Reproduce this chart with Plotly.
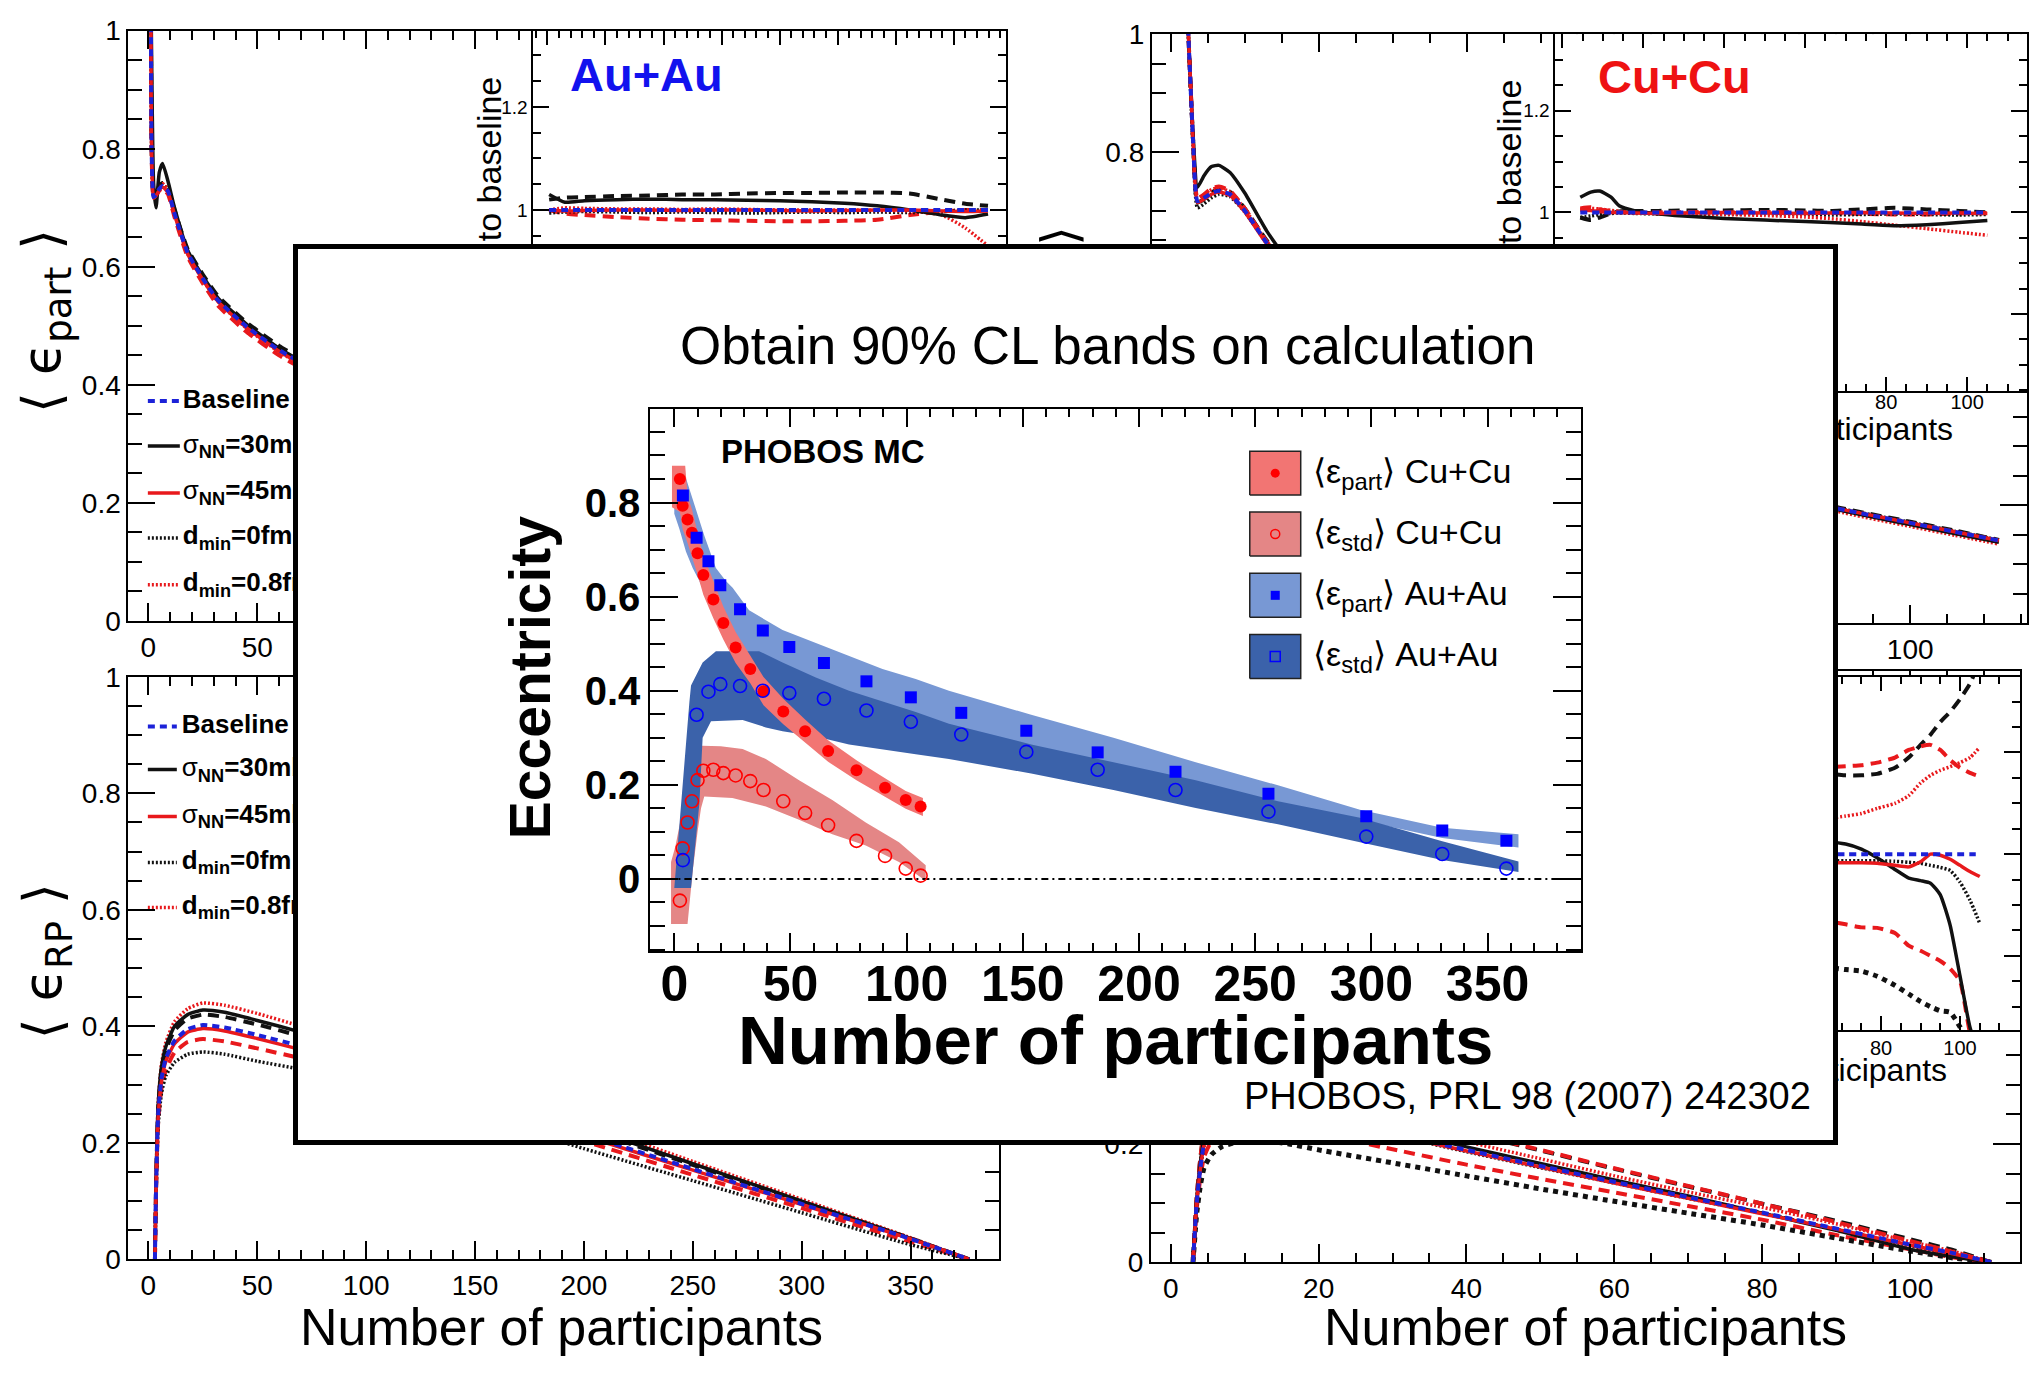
import plotly.graph_objects as go

W, H = 2029, 1375
SANS = "Liberation Sans, Arial, Helvetica, sans-serif"
MATH = "DejaVu Sans, Liberation Sans, sans-serif"

# ------------------------------------------------------------------
# PHOBOS MC eccentricity vs number of participants (central figure)
# ------------------------------------------------------------------
NPART_CU = [2.4, 3.6, 5.7, 7.6, 10.0, 12.5, 16.8, 21.1, 26.4, 32.7, 38.4, 46.9, 56.3, 66.2, 78.4, 90.7, 99.6, 106.0]
ECC_PART_CU = [0.850, 0.793, 0.764, 0.736, 0.692, 0.646, 0.594, 0.544, 0.492, 0.446, 0.399, 0.356, 0.314, 0.272, 0.231, 0.194, 0.168, 0.154]
ECC_STD_CU = [-0.046, 0.065, 0.120, 0.165, 0.210, 0.230, 0.232, 0.225, 0.220, 0.208, 0.189, 0.165, 0.140, 0.114, 0.081, 0.049, 0.022, 0.007]
NPART_AU = [3.7, 9.6, 14.7, 19.8, 28.3, 38.1, 49.5, 64.4, 82.7, 101.8, 123.5, 151.5, 182.2, 215.7, 255.7, 297.8, 330.5, 358.1]
ECC_PART_AU = [0.815, 0.725, 0.675, 0.624, 0.573, 0.528, 0.493, 0.459, 0.420, 0.386, 0.353, 0.315, 0.269, 0.228, 0.181, 0.133, 0.103, 0.081]
ECC_STD_AU = [0.040, 0.349, 0.398, 0.414, 0.410, 0.400, 0.395, 0.383, 0.358, 0.334, 0.307, 0.270, 0.232, 0.189, 0.143, 0.090, 0.053, 0.022]

# 90% CL bands (upper / lower edges)
BAND_PART_CU_HI_X = [-1.0, 4.7, 5.7, 7.6, 10.0, 12.5, 16.8, 21.1, 26.4, 32.7, 38.4, 46.9, 56.3, 66.2, 78.4, 90.7, 99.6, 107.0]
BAND_PART_CU_HI_Y = [0.878, 0.878, 0.814, 0.786, 0.737, 0.688, 0.634, 0.579, 0.525, 0.476, 0.429, 0.383, 0.339, 0.295, 0.252, 0.214, 0.187, 0.172]
BAND_PART_CU_LO_X = [-1.0, 2.4, 3.6, 5.7, 7.6, 10.0, 12.5, 16.8, 21.1, 26.4, 32.7, 38.4, 46.9, 56.3, 66.2, 78.4, 90.7, 99.6, 107.0]
BAND_PART_CU_LO_Y = [0.790, 0.780, 0.743, 0.714, 0.686, 0.647, 0.604, 0.554, 0.509, 0.459, 0.416, 0.369, 0.329, 0.289, 0.249, 0.210, 0.174, 0.149, 0.134]

BAND_STD_CU_HI_X = [-1.4, 0.5, 2.5, 4.5, 6.5, 8.5, 10.5, 12.0, 20.0, 29.4, 39.4, 53.7, 68.0, 82.4, 96.7, 108.2]
BAND_STD_CU_HI_Y = [0.036, 0.070, 0.120, 0.170, 0.220, 0.255, 0.278, 0.283, 0.282, 0.276, 0.255, 0.210, 0.168, 0.120, 0.078, 0.029]
BAND_STD_CU_LO_X = [-1.4, 5.7, 8.0, 10.0, 11.5, 12.9, 25.0, 39.4, 53.7, 68.0, 82.4, 96.7, 106.8, 108.2]
BAND_STD_CU_LO_Y = [-0.096, -0.096, 0.020, 0.100, 0.150, 0.175, 0.172, 0.154, 0.126, 0.095, 0.071, 0.036, 0.001, 0.0]

BAND_PART_AU_HI_X = [0.0, 5.0, 9.3, 12.9, 17.9, 22.2, 25.1, 32.2, 46.6, 60.9, 75.2, 89.6, 103.9, 118.2, 153.6, 189.0, 224.4, 259.8, 295.1, 330.5, 363.3]
BAND_PART_AU_HI_Y = [0.852, 0.852, 0.786, 0.730, 0.661, 0.633, 0.619, 0.571, 0.529, 0.501, 0.474, 0.446, 0.425, 0.400, 0.349, 0.300, 0.248, 0.199, 0.147, 0.109, 0.095]
BAND_PART_AU_LO_X = [0.0, 2.2, 5.0, 7.9, 10.8, 14.3, 17.9, 22.2, 25.1, 36.5, 46.6, 60.9, 75.2, 89.6, 103.9, 118.2, 153.6, 189.0, 224.4, 259.8, 295.1, 330.5, 363.3]
BAND_PART_AU_LO_Y = [0.776, 0.744, 0.696, 0.661, 0.633, 0.592, 0.550, 0.515, 0.484, 0.478, 0.455, 0.423, 0.395, 0.372, 0.350, 0.325, 0.282, 0.243, 0.205, 0.160, 0.125, 0.087, 0.067]

BAND_STD_AU_HI_X = [0.0, 2.9, 5.0, 6.5, 7.2, 12.2, 17.9, 36.5, 46.6, 60.9, 75.2, 89.6, 103.9, 118.2, 153.6, 189.0, 224.4, 259.8, 295.1, 330.5, 363.3]
BAND_STD_AU_HI_Y = [-0.019, 0.161, 0.300, 0.376, 0.411, 0.460, 0.484, 0.484, 0.460, 0.428, 0.400, 0.377, 0.355, 0.330, 0.286, 0.248, 0.210, 0.165, 0.130, 0.080, 0.037]
BAND_STD_AU_LO_X = [0.0, 7.2, 10.8, 12.2, 15.8, 29.4, 39.4, 46.6, 60.9, 75.2, 89.6, 103.9, 118.2, 153.6, 189.0, 224.4, 259.8, 295.1, 330.5, 363.3]
BAND_STD_AU_LO_Y = [-0.019, -0.019, 0.161, 0.300, 0.335, 0.338, 0.322, 0.314, 0.303, 0.286, 0.276, 0.265, 0.255, 0.224, 0.189, 0.151, 0.116, 0.078, 0.040, 0.015]

LEGEND_CENTRAL = ["⟨ε<sub>part</sub>⟩ Cu+Cu", "⟨ε<sub>std</sub>⟩ Cu+Cu",
                  "⟨ε<sub>part</sub>⟩ Au+Au", "⟨ε<sub>std</sub>⟩ Au+Au"]

# ------------------------------------------------------------------
# Glauber variations: Au+Au <eps_part> (top left) and ratio to baseline
# ------------------------------------------------------------------
AU_PART_NPART = [1.2, 2.4, 3.5, 5.0, 6.5, 9.0, 12.0, 18.0, 25.0, 32.0, 45.0, 60.0, 75.0, 100.0, 150.0, 200.0, 250.0, 300.0, 350.0, 380.0]
AU_PART_BASE = [1.05, 0.718, 0.722, 0.732, 0.737, 0.728, 0.690, 0.624, 0.580, 0.543, 0.499, 0.459, 0.428, 0.385, 0.318, 0.255, 0.190, 0.135, 0.090, 0.070]
AU_PART_S30 = [1.05, 0.740, 0.700, 0.760, 0.775, 0.745, 0.700, 0.628, 0.584, 0.547, 0.503, 0.462, 0.431, 0.388, 0.320, 0.256, 0.190, 0.134, 0.088, 0.069]
AU_PART_S45 = [1.05, 0.716, 0.720, 0.730, 0.735, 0.726, 0.688, 0.622, 0.578, 0.541, 0.497, 0.457, 0.426, 0.383, 0.316, 0.253, 0.188, 0.133, 0.089, 0.069]
AU_PART_D0 = [1.05, 0.720, 0.724, 0.734, 0.739, 0.730, 0.692, 0.626, 0.582, 0.545, 0.501, 0.461, 0.430, 0.386, 0.319, 0.256, 0.191, 0.136, 0.091, 0.071]
AU_PART_D08 = [1.05, 0.722, 0.726, 0.736, 0.741, 0.731, 0.690, 0.622, 0.578, 0.541, 0.496, 0.456, 0.425, 0.382, 0.315, 0.252, 0.187, 0.133, 0.088, 0.067]
AU_PART_DASH_K = [1.05, 0.722, 0.726, 0.737, 0.742, 0.733, 0.696, 0.630, 0.587, 0.550, 0.506, 0.466, 0.435, 0.391, 0.323, 0.259, 0.194, 0.138, 0.092, 0.071]
AU_PART_DASH_R = [1.05, 0.716, 0.720, 0.729, 0.733, 0.723, 0.684, 0.617, 0.572, 0.534, 0.490, 0.450, 0.419, 0.377, 0.311, 0.249, 0.185, 0.132, 0.088, 0.069]

AU_RATIO_NPART = [1.5, 15, 32, 60, 88, 116, 144, 172, 200, 228, 256, 284, 312, 340, 360, 379.5]
AU_RATIO_BASE = [1.0, 1.0, 1.0, 1.0, 1.0, 1.0, 1.0, 1.0, 1.0, 1.0, 1.0, 1.0, 1.0, 1.0, 1.0, 1.0]
AU_RATIO_S30 = [1.030, 1.015, 1.018, 1.020, 1.021, 1.020, 1.020, 1.019, 1.018, 1.016, 1.013, 1.008, 1.000, 0.990, 0.985, 0.992]
AU_RATIO_S45 = [1.000, 0.998, 0.999, 1.000, 1.000, 0.999, 1.000, 1.000, 0.999, 0.998, 0.999, 1.000, 1.000, 0.998, 0.997, 0.998]
AU_RATIO_D0 = [0.994, 0.996, 0.997, 0.996, 0.995, 0.996, 0.995, 0.994, 0.995, 0.996, 0.995, 0.996, 0.995, 0.997, 1.000, 1.000]
AU_RATIO_D08 = [1.000, 1.004, 1.003, 1.002, 1.002, 1.001, 1.002, 1.001, 1.000, 1.000, 1.000, 0.999, 0.998, 0.990, 0.965, 0.930]
AU_RATIO_DASH_K = [1.020, 1.024, 1.025, 1.027, 1.028, 1.030, 1.030, 1.032, 1.033, 1.033, 1.034, 1.034, 1.032, 1.020, 1.012, 1.008]
AU_RATIO_DASH_R = [1.000, 0.993, 0.990, 0.986, 0.983, 0.981, 0.980, 0.979, 0.978, 0.978, 0.979, 0.981, 0.990, 0.997, 1.000, 1.000]

# Au+Au <eps_RP> (bottom left)
RP_AU_NPART = [3.0, 3.5, 4.5, 6.0, 8.0, 12.0, 18.0, 25.0, 35.0, 50.0, 70.0, 100.0, 150.0, 200.0, 250.0, 300.0, 350.0, 377.0]
RP_AU_BASE = [0.0, 0.120, 0.250, 0.310, 0.345, 0.375, 0.395, 0.402, 0.398, 0.385, 0.366, 0.335, 0.278, 0.215, 0.155, 0.095, 0.035, 0.0]
RP_AU_S30 = [0.0, 0.130, 0.265, 0.330, 0.365, 0.400, 0.420, 0.428, 0.424, 0.410, 0.390, 0.356, 0.294, 0.228, 0.164, 0.100, 0.036, 0.0]
RP_AU_S45 = [0.0, 0.118, 0.245, 0.305, 0.340, 0.370, 0.390, 0.396, 0.392, 0.379, 0.360, 0.330, 0.274, 0.212, 0.153, 0.094, 0.035, 0.0]
RP_AU_D0 = [0.0, 0.110, 0.230, 0.285, 0.315, 0.338, 0.352, 0.356, 0.352, 0.340, 0.326, 0.298, 0.247, 0.190, 0.135, 0.080, 0.025, 0.0]
RP_AU_D08 = [0.0, 0.130, 0.270, 0.335, 0.372, 0.408, 0.430, 0.440, 0.436, 0.422, 0.400, 0.366, 0.302, 0.234, 0.168, 0.103, 0.037, 0.0]
RP_AU_DASH_K = [0.0, 0.125, 0.260, 0.325, 0.360, 0.393, 0.413, 0.420, 0.416, 0.403, 0.383, 0.350, 0.290, 0.225, 0.162, 0.099, 0.036, 0.0]
RP_AU_DASH_R = [0.0, 0.112, 0.237, 0.293, 0.325, 0.355, 0.373, 0.378, 0.374, 0.362, 0.345, 0.316, 0.262, 0.203, 0.145, 0.088, 0.030, 0.0]

# Cu+Cu <eps_part> (top right) and ratio to baseline
CU_PART_NPART = [2.2, 3.0, 3.6, 4.5, 5.5, 6.5, 8.0, 10.0, 13.0, 17.0, 22.0, 30.0, 40.0, 50.0, 60.0, 70.0, 80.0, 90.0, 100.0, 106.0, 112.0]
CU_PART_BASE = [1.05, 0.820, 0.716, 0.722, 0.730, 0.734, 0.728, 0.700, 0.645, 0.585, 0.525, 0.455, 0.390, 0.345, 0.305, 0.270, 0.232, 0.195, 0.170, 0.155, 0.140]
CU_PART_S30 = [1.05, 0.830, 0.740, 0.760, 0.775, 0.777, 0.765, 0.730, 0.665, 0.595, 0.532, 0.460, 0.394, 0.348, 0.306, 0.270, 0.231, 0.193, 0.167, 0.152, 0.137]
CU_PART_S45 = [1.05, 0.818, 0.714, 0.720, 0.728, 0.732, 0.726, 0.698, 0.643, 0.583, 0.523, 0.454, 0.389, 0.344, 0.304, 0.269, 0.231, 0.195, 0.170, 0.155, 0.140]
CU_PART_D0 = [1.05, 0.810, 0.705, 0.712, 0.722, 0.728, 0.724, 0.698, 0.644, 0.585, 0.525, 0.456, 0.391, 0.346, 0.306, 0.271, 0.233, 0.196, 0.171, 0.156, 0.141]
CU_PART_D08 = [1.05, 0.826, 0.722, 0.728, 0.736, 0.739, 0.732, 0.703, 0.647, 0.586, 0.525, 0.454, 0.388, 0.342, 0.301, 0.265, 0.226, 0.190, 0.164, 0.149, 0.134]
CU_PART_DASH_K = [1.05, 0.820, 0.714, 0.720, 0.731, 0.737, 0.732, 0.704, 0.649, 0.589, 0.529, 0.459, 0.394, 0.349, 0.309, 0.273, 0.235, 0.197, 0.172, 0.157, 0.141]
CU_PART_DASH_R = [1.05, 0.822, 0.720, 0.728, 0.738, 0.741, 0.734, 0.704, 0.647, 0.586, 0.525, 0.455, 0.390, 0.345, 0.305, 0.270, 0.232, 0.195, 0.170, 0.155, 0.140]

CU_RATIO_NPART = [4.4, 7, 9.2, 12, 14, 18, 23.7, 30, 40, 50, 60, 66, 74, 82, 90, 98, 105]
CU_RATIO_BASE = [1.0, 1.0, 1.0, 1.0, 1.0, 1.0, 1.0, 1.0, 1.0, 1.0, 1.0, 1.0, 1.0, 1.0, 1.0, 1.0, 1.0]
CU_RATIO_S30 = [1.030, 1.040, 1.042, 1.030, 1.013, 1.003, 0.997, 0.993, 0.988, 0.985, 0.982, 0.980, 0.977, 0.974, 0.976, 0.980, 0.984]
CU_RATIO_S45 = [1.005, 1.004, 1.002, 1.000, 1.000, 0.999, 0.998, 0.999, 1.000, 0.999, 0.998, 0.999, 1.000, 0.999, 0.998, 0.999, 0.998]
CU_RATIO_D0 = [0.990, 0.993, 0.996, 0.998, 0.999, 0.998, 0.997, 0.996, 0.996, 0.997, 0.996, 0.995, 0.996, 0.997, 0.996, 0.995, 0.996]
CU_RATIO_D08 = [1.006, 1.008, 1.007, 1.004, 1.002, 1.000, 0.999, 0.998, 0.996, 0.994, 0.991, 0.988, 0.982, 0.975, 0.968, 0.961, 0.955]
CU_RATIO_DASH_K = [0.990, 0.985, 0.990, 0.998, 1.002, 1.003, 1.003, 1.004, 1.004, 1.005, 1.004, 1.003, 1.006, 1.009, 1.006, 1.003, 1.000]
CU_RATIO_DASH_R = [1.008, 1.010, 1.006, 1.003, 1.001, 1.000, 1.000, 1.001, 1.000, 1.001, 1.000, 0.999, 0.997, 0.996, 0.996, 0.998, 0.999]

# Cu+Cu <eps_RP> (bottom right) and ratio to baseline
RP_CU_NPART = [3.0, 3.5, 4.0, 4.5, 5.5, 7.0, 9.0, 12.0, 16.0, 20.0, 30.0, 40.0, 50.0, 60.0, 70.0, 80.0, 90.0, 100.0, 106.0, 111.0]
RP_CU_BASE = [0.0, 0.100, 0.160, 0.200, 0.232, 0.252, 0.263, 0.268, 0.260, 0.248, 0.219, 0.190, 0.163, 0.136, 0.110, 0.084, 0.057, 0.030, 0.015, 0.0]
RP_CU_S30 = [0.0, 0.105, 0.168, 0.210, 0.240, 0.260, 0.270, 0.274, 0.266, 0.254, 0.224, 0.195, 0.167, 0.139, 0.112, 0.083, 0.054, 0.022, 0.009, 0.0]
RP_CU_S45 = [0.0, 0.099, 0.158, 0.198, 0.229, 0.249, 0.260, 0.265, 0.257, 0.245, 0.216, 0.188, 0.161, 0.134, 0.108, 0.082, 0.056, 0.029, 0.014, 0.0]
RP_CU_D0 = [0.0, 0.098, 0.157, 0.197, 0.228, 0.248, 0.259, 0.264, 0.256, 0.244, 0.215, 0.187, 0.160, 0.134, 0.108, 0.083, 0.056, 0.028, 0.013, 0.0]
RP_CU_D08 = [0.0, 0.108, 0.172, 0.215, 0.249, 0.270, 0.282, 0.287, 0.279, 0.266, 0.235, 0.204, 0.175, 0.146, 0.119, 0.093, 0.065, 0.035, 0.018, 0.0]
RP_CU_DASH_K = [0.0, 0.110, 0.176, 0.222, 0.258, 0.282, 0.296, 0.302, 0.294, 0.281, 0.250, 0.219, 0.189, 0.158, 0.128, 0.099, 0.070, 0.039, 0.020, 0.0]
RP_CU_DASH_R = [0.0, 0.110, 0.177, 0.223, 0.259, 0.283, 0.297, 0.303, 0.295, 0.282, 0.251, 0.220, 0.190, 0.159, 0.129, 0.099, 0.068, 0.036, 0.017, 0.0]
RP_CU_DASH_R2 = [0.0, 0.090, 0.143, 0.178, 0.205, 0.222, 0.231, 0.234, 0.228, 0.217, 0.191, 0.165, 0.141, 0.118, 0.095, 0.072, 0.046, 0.022, 0.008, 0.0]
RP_CU_DASH_K2 = [0.0, 0.082, 0.130, 0.160, 0.182, 0.196, 0.203, 0.206, 0.200, 0.190, 0.168, 0.146, 0.124, 0.103, 0.083, 0.063, 0.041, 0.019, 0.007, 0.0]

RP_CU_RATIO_NPART = [5, 20, 40, 55, 66.6, 71, 75, 79, 83.5, 87, 90, 92.5, 95, 97.5, 100, 102.5, 105]
RP_CU_RATIO_BASE = [1.0, 1.0, 1.0, 1.0, 1.0, 1.0, 1.0, 1.0, 1.0, 1.0, 1.0, 1.0, 1.0, 1.0, 1.0, 1.0, 1.0]
RP_CU_RATIO_DASH_K = [1.10, 1.12, 1.14, 1.15, 1.158, 1.155, 1.155, 1.158, 1.17, 1.19, 1.215, 1.235, 1.26, 1.28, 1.305, 1.335, 1.38]
RP_CU_RATIO_DASH_R = [1.12, 1.15, 1.165, 1.17, 1.171, 1.173, 1.175, 1.18, 1.19, 1.205, 1.212, 1.215, 1.205, 1.185, 1.17, 1.16, 1.153]
RP_CU_RATIO_D08 = [1.03, 1.045, 1.06, 1.066, 1.07, 1.075, 1.08, 1.09, 1.10, 1.115, 1.14, 1.155, 1.165, 1.172, 1.18, 1.19, 1.21]
RP_CU_RATIO_S30 = [1.02, 1.025, 1.027, 1.025, 1.024, 1.02, 1.01, 0.993, 0.97, 0.953, 0.948, 0.943, 0.92, 0.86, 0.76, 0.66, 0.60]
RP_CU_RATIO_S45 = [0.99, 0.985, 0.984, 0.983, 0.983, 0.983, 0.983, 0.982, 0.978, 0.975, 0.985, 1.0, 0.998, 0.99, 0.978, 0.966, 0.956]
RP_CU_RATIO_D0 = [0.99, 0.988, 0.987, 0.987, 0.987, 0.987, 0.987, 0.987, 0.986, 0.984, 0.982, 0.978, 0.974, 0.968, 0.945, 0.91, 0.864]
RP_CU_RATIO_DASH_R2 = [0.88, 0.875, 0.87, 0.868, 0.868, 0.862, 0.856, 0.855, 0.845, 0.82, 0.81, 0.80, 0.79, 0.775, 0.75, 0.65, 0.60]
RP_CU_RATIO_DASH_K2 = [0.82, 0.80, 0.785, 0.78, 0.777, 0.773, 0.77, 0.76, 0.742, 0.725, 0.71, 0.70, 0.692, 0.689, 0.66, 0.62, 0.60]

LEGEND_KEYS = ["base", "s30", "s45", "d0", "d08"]
LEGEND_LABELS = ["<b>Baseline</b>", "σ<sub><b>NN</b></sub><b>=30mb</b>", "σ<sub><b>NN</b></sub><b>=45mb</b>",
                 "<b>d<sub>min</sub>=0fm</b>", "<b>d<sub>min</sub>=0.8fm</b>"]

# ------------------------------------------------------------------
# styles
# ------------------------------------------------------------------
RED_L, BLUE_L, BLACK_L = "#e8191c", "#1c22d8", "#111111"
LINE_STYLE = {
    "dashK": (BLACK_L, "11px,7px", 4),
    "dashR": (RED_L, "11px,7px", 4),
    "dashR2": (RED_L, "11px,7px", 4),
    "dashK2": (BLACK_L, "5px,5px", 5),
    "d0": (BLACK_L, "2px,2px", 3.5),
    "d08": (RED_L, "2px,2px", 3.5),
    "s30": (BLACK_L, "solid", 3.5),
    "s45": (RED_L, "solid", 3.5),
    "base": (BLUE_L, "7px,5px", 4),
}
BAND_PART_CU_COLOR = "#f27573"
BAND_STD_CU_COLOR = "#e48686"
BAND_PART_AU_COLOR = "#7898d4"
BAND_STD_AU_COLOR = "#3b62aa"

fig = go.Figure()


def ids(n):
    return ("x" if n == 1 else f"x{n}"), ("y" if n == 1 else f"y{n}")


def dom_x(left, right):
    return [left / W, min(right / W, 1.0)]


def dom_y(top, bottom):
    return [1 - bottom / H, 1 - top / H]


def frame_axis(domain, rng, anchor, major, minor, tlen, mlen, fsize, lw=2, bold=False, standoff=0):
    font = dict(family=SANS, size=fsize, color="black")
    if bold:
        font["weight"] = "bold"
    return dict(domain=domain, range=rng, anchor=anchor, autorange=False,
                showgrid=False, zeroline=False, showline=True, linecolor="black", linewidth=lw,
                mirror="ticks", ticks="inside", tickcolor="black", tickwidth=lw, ticklen=tlen,
                tick0=0, dtick=major, ticklabelstandoff=standoff,
                minor=dict(tick0=0, dtick=minor, ticks="inside", ticklen=mlen, tickwidth=lw,
                           tickcolor="black", showgrid=False),
                tickfont=font, fixedrange=True)


# panel geometry: (x pixel span, y pixel span top->bottom, x range, y range)
PANEL = {
    1: ((128.5, 999.5), (16, 620), [-9.2, 390.4], [0, 1]),          # Au+Au <eps_part>
    2: ((534, 1007), (16, 385), [-12, 395], [0.648, 1.348]),         # Au+Au ratio
    3: ((1153, 2029), (19.5, 622), [-2.57, 115.8], [0, 1]),          # Cu+Cu <eps_part>
    4: ((1557, 2029), (19.5, 385), [-1.73, 114.8], [0.648, 1.351]),  # Cu+Cu ratio
    5: ((128.5, 999.5), (677, 1273), [-9.2, 390.4], [0, 1]),         # Au+Au <eps_RP>
    6: ((1152, 2022), (671, 1276), [-2.7, 114.9], [0, 1]),           # Cu+Cu <eps_RP>
    7: ((1557, 2022), (677, 1038.5), [-2.53, 115.2], [0.654, 1.349]),  # Cu+Cu RP ratio
    8: ((298, 1835), (239, 1151), [0, 1], [0, 1]),                   # slide box
    9: ((651, 1583), (403, 958), [-10.3, 390.4], [-0.154, 0.999]),   # PHOBOS MC
}


def px2x(n, px):
    (a, b), _, (r0, r1), _ = PANEL[n]
    return r0 + (px - a) * (r1 - r0) / (b - a)


def px2y(n, py):
    _, (top, bottom), _, (r0, r1) = PANEL[n]
    return r0 + (bottom - py) * (r1 - r0) / (bottom - top)


layout_axes = {}
for n, (xpx, ypx, xr, yr) in PANEL.items():
    xid, yid = ids(n)
    xkey = "xaxis" if n == 1 else f"xaxis{n}"
    ykey = "yaxis" if n == 1 else f"yaxis{n}"
    if n in (1, 5):
        xa = frame_axis(dom_x(*xpx), xr, yid, 50, 10, 18, 9, 28)
        ya = frame_axis(dom_y(*ypx), yr, xid, 0.2, 0.05, 27, 14, 28)
    elif n in (3, 6):
        xa = frame_axis(dom_x(*xpx), xr, yid, 20, 5, 18, 9, 28)
        ya = frame_axis(dom_y(*ypx), yr, xid, 0.2, 0.05, 27, 14, 28)
    elif n == 2:
        xa = frame_axis(dom_x(*xpx), xr, yid, 50, 10, 14, 7, 20)
        ya = frame_axis(dom_y(*ypx), yr, xid, 0.2, 0.05, 16, 8, 19)
    elif n == 4:
        xa = frame_axis(dom_x(*xpx), xr, yid, 20, 5, 14, 7, 20, standoff=-8)
        ya = frame_axis(dom_y(*ypx), yr, xid, 0.2, 0.05, 16, 8, 19)
    elif n == 7:
        xa = frame_axis(dom_x(*xpx), xr, yid, 20, 5, 14, 7, 20, standoff=-1)
        ya = frame_axis(dom_y(*ypx), yr, xid, 0.2, 0.05, 16, 8, 19)
    elif n == 8:
        xa = dict(domain=dom_x(*xpx), range=xr, anchor=yid, showgrid=False, zeroline=False,
                  showline=True, mirror=True, linecolor="black", linewidth=5,
                  ticks="", showticklabels=False, fixedrange=True)
        ya = dict(domain=dom_y(*ypx), range=yr, anchor=xid, showgrid=False, zeroline=False,
                  showline=True, mirror=True, linecolor="black", linewidth=5,
                  ticks="", showticklabels=False, fixedrange=True)
    else:
        xa = frame_axis(dom_x(*xpx), xr, yid, 50, 10, 18, 8, 50, bold=True, standoff=-12)
        ya = frame_axis(dom_y(*ypx), yr, xid, 0.2, 0.05, 28, 15, 40, bold=True)
    layout_axes[xkey] = xa
    layout_axes[ykey] = ya


def add_curves(n, x, series, order):
    xid, yid = ids(n)
    for key in order:
        if key not in series:
            continue
        color, dash, w = LINE_STYLE[key]
        fig.add_trace(go.Scatter(x=x, y=series[key], xaxis=xid, yaxis=yid, mode="lines",
                                 line=dict(color=color, dash=dash, width=w, shape="spline", smoothing=0.5),
                                 hoverinfo="skip", showlegend=False))


ORDER = ["dashK", "dashR", "dashR2", "dashK2", "d0", "d08", "s30", "s45", "base"]

# ---------------- background panels ----------------
add_curves(1, AU_PART_NPART, {"base": AU_PART_BASE, "s30": AU_PART_S30, "s45": AU_PART_S45, "d0": AU_PART_D0,
                              "d08": AU_PART_D08, "dashK": AU_PART_DASH_K, "dashR": AU_PART_DASH_R}, ORDER)


def add_panel_legend(n, text_px, sample_px, rows_py, size=26):
    xid, yid = ids(n)
    for key, label, py in zip(LEGEND_KEYS, LEGEND_LABELS, rows_py):
        color, dash, w = LINE_STYLE[key]
        fig.add_trace(go.Scatter(x=[px2x(n, sample_px[0]), px2x(n, sample_px[1])], y=[px2y(n, py)] * 2,
                                 xaxis=xid, yaxis=yid, mode="lines", line=dict(color=color, dash=dash, width=w),
                                 hoverinfo="skip", showlegend=False))
        fig.add_trace(go.Scatter(x=[px2x(n, text_px)], y=[px2y(n, py)], xaxis=xid, yaxis=yid, mode="text",
                                 text=[label], textposition="middle right",
                                 textfont=dict(family=SANS, size=size, color="black"),
                                 hoverinfo="skip", showlegend=False))


add_panel_legend(1, 183, (148, 180), [395, 441, 489, 535, 583])

add_curves(2, AU_RATIO_NPART, {"base": AU_RATIO_BASE, "s30": AU_RATIO_S30, "s45": AU_RATIO_S45, "d0": AU_RATIO_D0,
                               "d08": AU_RATIO_D08, "dashK": AU_RATIO_DASH_K, "dashR": AU_RATIO_DASH_R}, ORDER)

add_curves(3, CU_PART_NPART, {"base": CU_PART_BASE, "s30": CU_PART_S30, "s45": CU_PART_S45, "d0": CU_PART_D0,
                              "d08": CU_PART_D08, "dashK": CU_PART_DASH_K, "dashR": CU_PART_DASH_R}, ORDER)
# inset axis title, drawn in the host panel just below the inset frame
fig.add_trace(go.Scatter(x=[px2x(3, 1955)], y=[px2y(3, 427)], xaxis="x3", yaxis="y3", mode="text",
                         text=["Number of participants"], textposition="middle left",
                         textfont=dict(family=SANS, size=32, color="black"), hoverinfo="skip", showlegend=False))

add_curves(4, CU_RATIO_NPART, {"base": CU_RATIO_BASE, "s30": CU_RATIO_S30, "s45": CU_RATIO_S45, "d0": CU_RATIO_D0,
                               "d08": CU_RATIO_D08, "dashK": CU_RATIO_DASH_K, "dashR": CU_RATIO_DASH_R}, ORDER)

add_curves(5, RP_AU_NPART, {"base": RP_AU_BASE, "s30": RP_AU_S30, "s45": RP_AU_S45, "d0": RP_AU_D0,
                            "d08": RP_AU_D08, "dashK": RP_AU_DASH_K, "dashR": RP_AU_DASH_R}, ORDER)
add_panel_legend(5, 182, (148, 177), [728, 772, 820, 867, 913])

add_curves(6, RP_CU_NPART, {"base": RP_CU_BASE, "s30": RP_CU_S30, "s45": RP_CU_S45, "d0": RP_CU_D0,
                            "d08": RP_CU_D08, "dashK": RP_CU_DASH_K, "dashR": RP_CU_DASH_R,
                            "dashR2": RP_CU_DASH_R2, "dashK2": RP_CU_DASH_K2}, ORDER)
fig.add_trace(go.Scatter(x=[px2x(6, 1949)], y=[px2y(6, 1082)], xaxis="x6", yaxis="y6", mode="text",
                         text=["Number of participants"], textposition="middle left",
                         textfont=dict(family=SANS, size=32, color="black"), hoverinfo="skip", showlegend=False))

add_curves(7, RP_CU_RATIO_NPART, {"base": RP_CU_RATIO_BASE, "s30": RP_CU_RATIO_S30, "s45": RP_CU_RATIO_S45,
                                  "d0": RP_CU_RATIO_D0, "d08": RP_CU_RATIO_D08, "dashK": RP_CU_RATIO_DASH_K,
                                  "dashR": RP_CU_RATIO_DASH_R, "dashR2": RP_CU_RATIO_DASH_R2,
                                  "dashK2": RP_CU_RATIO_DASH_K2}, ORDER)

# ---------------- slide box ----------------
fig.add_trace(go.Scatter(x=[0.5], y=[0.5], xaxis="x8", yaxis="y8", mode="markers",
                         marker=dict(opacity=0), hoverinfo="skip", showlegend=False))

# ---------------- PHOBOS MC eccentricity ----------------


def band(hx, hy, lx, ly, color):
    fig.add_trace(go.Scatter(x=hx + lx[::-1], y=hy + ly[::-1], xaxis="x9", yaxis="y9", mode="lines",
                             fill="toself", fillcolor=color, line=dict(width=0, color=color),
                             hoverinfo="skip", showlegend=False))


band(BAND_PART_AU_HI_X, BAND_PART_AU_HI_Y, BAND_PART_AU_LO_X, BAND_PART_AU_LO_Y, BAND_PART_AU_COLOR)
band(BAND_STD_CU_HI_X, BAND_STD_CU_HI_Y, BAND_STD_CU_LO_X, BAND_STD_CU_LO_Y, BAND_STD_CU_COLOR)
band(BAND_STD_AU_HI_X, BAND_STD_AU_HI_Y, BAND_STD_AU_LO_X, BAND_STD_AU_LO_Y, BAND_STD_AU_COLOR)
band(BAND_PART_CU_HI_X, BAND_PART_CU_HI_Y, BAND_PART_CU_LO_X, BAND_PART_CU_LO_Y, BAND_PART_CU_COLOR)

x9r = PANEL[9][2]
fig.add_trace(go.Scatter(x=[x9r[0], x9r[1]], y=[0, 0], xaxis="x9", yaxis="y9", mode="lines",
                         line=dict(color="black", width=2, dash="7px,4px,2px,4px"),
                         hoverinfo="skip", showlegend=False))

MARKERS = [
    (NPART_CU, ECC_PART_CU, dict(symbol="circle", size=12, color="#ff0000")),
    (NPART_CU, ECC_STD_CU, dict(symbol="circle-open", size=13, color="#ff0000", line=dict(width=1.6, color="#ff0000"))),
    (NPART_AU, ECC_PART_AU, dict(symbol="square", size=12, color="#0000ff")),
    (NPART_AU, ECC_STD_AU, dict(symbol="circle-open", size=13, color="#0000ff", line=dict(width=1.6, color="#0000ff"))),
]
for xs, ys, mk in MARKERS:
    fig.add_trace(go.Scatter(x=xs, y=ys, xaxis="x9", yaxis="y9", mode="markers", marker=mk,
                             hoverinfo="skip", showlegend=False))

# legend swatches
SWATCH_COLORS = [BAND_PART_CU_COLOR, BAND_STD_CU_COLOR, BAND_PART_AU_COLOR, BAND_STD_AU_COLOR]
SWATCH_MARKERS = [dict(symbol="circle", size=9, color="#ff0000"),
                  dict(symbol="circle-open", size=9, color="#ff0000", line=dict(width=1.5, color="#ff0000")),
                  dict(symbol="square", size=9, color="#0000ff"),
                  dict(symbol="square-open", size=10, color="#0000ff", line=dict(width=1.5, color="#0000ff"))]
ROW_PY = [468.7, 531.0, 593.7, 656.4]
for color, mk, py in zip(SWATCH_COLORS, SWATCH_MARKERS, ROW_PY):
    x0, x1 = px2x(9, 1251), px2x(9, 1302)
    y0, y1 = px2y(9, py + 22.5), px2y(9, py - 22.5)
    fig.add_trace(go.Scatter(x=[x0, x1, x1, x0, x0], y=[y0, y0, y1, y1, y0], xaxis="x9", yaxis="y9",
                             mode="lines", fill="toself", fillcolor=color,
                             line=dict(color="#222222", width=1.5), hoverinfo="skip", showlegend=False))
    fig.add_trace(go.Scatter(x=[px2x(9, 1276.5)], y=[px2y(9, py)], xaxis="x9", yaxis="y9", mode="markers",
                             marker=mk, hoverinfo="skip", showlegend=False))


# ---------------- text ----------------
def ann(text, x, y, size, angle=0, xanchor="center", yanchor="middle", color="black", family=SANS):
    return dict(text=text, x=x / W, y=1 - y / H, xref="paper", yref="paper", showarrow=False,
                textangle=angle, xanchor=xanchor, yanchor=yanchor,
                font=dict(family=family, size=size, color=color))


annotations = [
    ann("⟨ ϵ<sub>part</sub> ⟩", 46, 313, 53, angle=-90, family=MATH),
    ann("⟨ ϵ<sub>RP</sub> ⟩", 46, 968, 53, angle=-90, family=MATH),
    # closing bracket of the right-hand panel's y title, the rest sits behind the slide box
    ann("⟩", 1061, 226, 50, angle=-90, family=MATH),
    ann("to baseline", 489, 148, 34, angle=-90),
    ann("to baseline", 1510, 151, 34, angle=-90),
    ann("<b>Au+Au</b>", 569, 61, 47, xanchor="left", color="#1212ee"),
    ann("<b>Cu+Cu</b>", 1598, 63, 47, xanchor="left", color="#ee1212"),
    ann("Number of participants", 562, 1342, 52),
    ann("Number of participants", 1587, 1342, 52),
    ann("Obtain 90% CL bands on calculation", 1109, 338, 53),
    ann("PHOBOS, PRL 98 (2007) 242302", 1815, 1106, 38, xanchor="right"),
    ann("<b>PHOBOS MC</b>", 824, 447, 33),
    ann("<b>Eccentricity</b>", 530, 678, 57, angle=-90),
    ann("<b>Number of participants</b>", 1117, 1049, 69),
]
for label, py in zip(LEGEND_CENTRAL, ROW_PY):
    annotations.append(ann(label, 1312, py, 34, xanchor="left"))

fig.update_layout(
    width=W, height=H, margin=dict(l=0, r=0, t=0, b=0),
    paper_bgcolor="white", plot_bgcolor="white", showlegend=False,
    annotations=annotations, **layout_axes,
)

fig.write_html("out.html")
